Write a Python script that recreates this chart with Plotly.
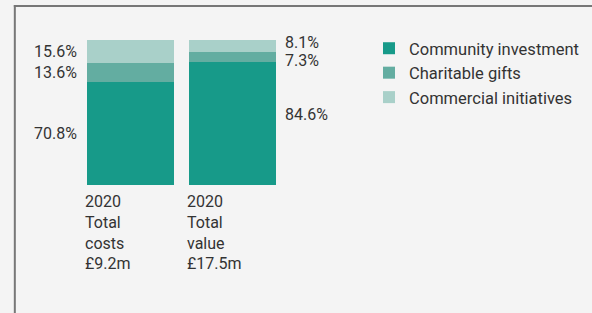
import plotly.graph_objects as go

# ---- data ----
categories = ["2020 Total costs £9.2m", "2020 Total value £17.5m"]
category_labels = ["2020<br>Total<br>costs<br>£9.2m", "2020<br>Total<br>value<br>£17.5m"]
series_names = ["Community investment", "Charitable gifts", "Commercial initiatives"]
community = [70.8, 84.6]
charitable = [13.6, 7.3]
commercial = [15.6, 8.1]

# ---- style ----
colors = ["#179a89", "#63ada1", "#a9d0c9"]
bg = "#f4f4f4"
txt = "#333333"
font_family = "Roboto, Arial, sans-serif"
W, H = 592, 313
L, T, PW, PH = 79.5, 40, 204, 144.7
bar_w = 0.853

series = [community, charitable, commercial]

fig = go.Figure()
for name, vals, col in zip(series_names, series, colors):
    fig.add_trace(go.Bar(
        x=list(range(len(categories))), y=vals, name=name,
        marker=dict(color=col, line=dict(width=0)),
        width=bar_w, hoverinfo="skip",
    ))

annotations = []
# percentage labels
label_yshift = [[0, 0, 0], [9, -3, 3]]  # per bar, per series
for i in range(len(categories)):
    base = 0
    for s, vals in enumerate(series):
        v = vals[i]
        center = base + v / 2
        base += v
        if i == 0:
            annotations.append(dict(x=i - bar_w / 2, y=center, text=f"{v:.1f}%",
                                    xanchor="right", yanchor="middle", xshift=-8,
                                    yshift=label_yshift[i][s], showarrow=False,
                                    font=dict(size=16, color=txt, family=font_family)))
        else:
            annotations.append(dict(x=i + bar_w / 2, y=center, text=f"{v:.1f}%",
                                    xanchor="left", yanchor="middle", xshift=7,
                                    yshift=label_yshift[i][s], showarrow=False,
                                    font=dict(size=16, color=txt, family=font_family)))
# category labels
for i, lab in enumerate(category_labels):
    annotations.append(dict(x=i - bar_w / 2, y=0, text=lab, xanchor="left", yanchor="top",
                            align="left", xshift=-4, yshift=-5, showarrow=False,
                            font=dict(size=16, color=txt, family=font_family)))

# frame lines (top and left)
def px_x(p):
    return (p - L) / PW

def px_y(p):
    return (H - p - (H - T - PH)) / PH

shapes = [
    dict(type="line", xref="paper", yref="paper", x0=px_x(13), x1=px_x(600), y0=px_y(6), y1=px_y(6),
         line=dict(color="#777777", width=2)),
    dict(type="line", xref="paper", yref="paper", x0=px_x(14), x1=px_x(14), y0=px_y(5), y1=px_y(320),
         line=dict(color="#777777", width=2)),
]

fig.update_layout(
    width=W, height=H, barmode="stack",
    margin=dict(l=L, r=W - L - PW, t=T, b=H - T - PH, pad=0),
    paper_bgcolor=bg, plot_bgcolor=bg,
    font=dict(family=font_family, size=16, color=txt),
    xaxis=dict(range=[-0.5, 1.5], showticklabels=False, showgrid=False, zeroline=False,
               showline=False, ticks=""),
    yaxis=dict(range=[0, 100], showticklabels=False, showgrid=False, zeroline=False,
               showline=False, ticks=""),
    showlegend=True,
    legend=dict(xref="container", yref="container", x=369 / W, y=1 - 31 / H,
                xanchor="left", yanchor="top", traceorder="normal",
                bgcolor="rgba(0,0,0,0)", font=dict(size=16.5, color=txt, family=font_family),
                itemclick=False, itemdoubleclick=False),
    annotations=annotations, shapes=shapes,
)

fig.write_html("out.html", config={"displayModeBar": False},
               post_script="document.body.style.margin='0';document.body.style.overflow='hidden';")
